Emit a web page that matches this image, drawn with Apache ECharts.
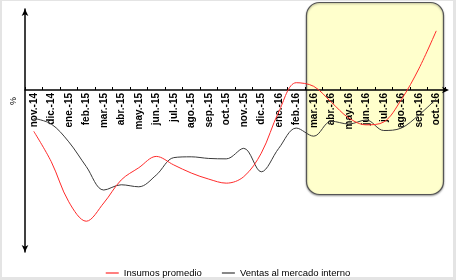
<!DOCTYPE html>
<html>
<head>
<meta charset="utf-8">
<script src="https://cdn.jsdelivr.net/npm/echarts@6/dist/echarts.min.js"></script>
<style>
html,body{margin:0;padding:0;background:#e4e4e4;}
#wrap{position:relative;width:456px;height:280px;overflow:hidden;}
#bg{position:absolute;left:2px;top:1px;width:451px;height:276px;background:#fff;}
#c{position:absolute;left:0;top:0;width:456px;height:280px;}
</style>
</head>
<body>
<div id="wrap"><div id="bg"></div><div id="c"></div></div>
<script>
var categories = ["nov.-14","dic.-14","ene.-15","feb.-15","mar.-15","abr.-15","may.-15","jun.-15","jul.-15","ago.-15","sep.-15","oct.-15","nov.-15","dic.-15","ene.-16","feb.-16","mar.-16","abr.-16","may.-16","jun.-16","jul.-16","ago.-16","sep.-16","oct.-16"];
var insumosPromedio = [-5.1,-8.85,-13.8,-16.2,-13.95,-11.1,-9.6,-8.2,-9.25,-10.25,-11.0,-11.5,-10.7,-7.8,-2.7,0.9,0.45,-1.5,-3.45,-4.3,-3.95,-1.2,2.6,7.3];
var ventasMercadoInterno = [-3.5,-4.2,-6.4,-9.45,-12.35,-11.7,-11.95,-10.5,-8.35,-8.25,-8.45,-8.5,-7.2,-10.1,-7.2,-4.7,-5.7,-3.85,-4.2,-3.7,-5.0,-4.7,-3.1,-1.1];
var seriesNames = ["Insumos promedio","Ventas al mercado interno"];
var highlightFrom = "mar.-16";
var highlightTo = "oct.-16";
var highlightTopValue = 10.8;
var highlightBottomValue = -12.9;

var chart = echarts.init(document.getElementById('c'), null, {renderer:'canvas'});
var option = {
  backgroundColor: 'transparent',
  animation: false,
  grid: {left: 25, right: 11, top: 9, bottom: 28, containLabel: false, outerBoundsMode: 'none'},
  legend: {
    data: seriesNames,
    top: 263,
    left: 'center',
    icon: 'rect',
    itemWidth: 13,
    itemHeight: 1.2,
    itemGap: 20,
    textStyle: {fontFamily: 'Liberation Sans, Arial, sans-serif', fontSize: 9.5, color: '#000'}
  },
  xAxis: {
    type: 'category',
    data: categories,
    boundaryGap: true,
    offset: 0,
    axisLine: {onZero: false, lineStyle: {color: '#000', width: 1.5}, symbol: ['none','arrow'], symbolSize: [5,7], symbolOffset: [0,4]},
    axisTick: {show: true, inside: true, length: 3, alignWithLabel: false, lineStyle: {color: '#000', width: 1}},
    axisLabel: {interval: 0, rotate: 90, margin: 3, fontFamily: 'Liberation Sans, Arial, sans-serif', fontSize: 10, fontWeight: 'bold', color: '#000'},
    splitLine: {show: false},
    z: 3
  },
  yAxis: {
    type: 'value',
    min: -20,
    max: 10,
    axisLine: {show: true, onZero: false, lineStyle: {color: '#000', width: 1.5}, symbol: ['arrow','arrow'], symbolSize: [5,7]},
    axisTick: {show: false},
    axisLabel: {show: false},
    splitLine: {show: false},
    z: 3
  },
  series: [
    {
      name: seriesNames[0], type: 'line', data: insumosPromedio, smooth: 0.35,
      symbol: 'none', lineStyle: {color: '#ff2a2a', width: 1}, itemStyle: {color: '#ff2a2a'}, z: 5
    },
    {
      name: seriesNames[1], type: 'line', data: ventasMercadoInterno, smooth: 0.35,
      symbol: 'none', lineStyle: {color: '#3a3a3a', width: 1}, itemStyle: {color: '#3a3a3a'}, z: 4
    }
  ]
};
chart.setOption(option);

var iFrom = categories.indexOf(highlightFrom);
var iTo = categories.indexOf(highlightTo);
var pFrom = chart.convertToPixel({gridIndex: 0}, [iFrom, highlightTopValue]);
var pTo = chart.convertToPixel({gridIndex: 0}, [iTo, highlightBottomValue]);
var pNext = chart.convertToPixel({gridIndex: 0}, [iFrom + 1, 0]);
var band = pNext[0] - pFrom[0];
var x0 = pFrom[0] - band / 2 + 1.5;
var x1 = pTo[0] + band / 2 - 1.5;
var yZero = chart.convertToPixel({gridIndex: 0}, [0, 0])[1];
var yMinPx = chart.convertToPixel({gridIndex: 0}, [0, -20])[1];

chart.setOption({
  xAxis: {offset: -(yMinPx - yZero)},
  graphic: [
    {
      type: 'rect', z: -1, silent: true,
      shape: {x: x0, y: pFrom[1], width: x1 - x0, height: pTo[1] - pFrom[1], r: 13},
      style: {fill: '#ffffcc', stroke: '#555', lineWidth: 1.2, shadowBlur: 2, shadowColor: 'rgba(0,0,0,0.35)', shadowOffsetY: 1}
    },
    {
      type: 'text', silent: true, z: 10,
      x: 14, y: yZero + 11, rotation: Math.PI / 2,
      style: {text: '%', fontFamily: 'Liberation Sans, Arial, sans-serif', fontSize: 9, fill: '#000', align: 'center', verticalAlign: 'middle'}
    }
  ]
});
</script>
</body>
</html>
